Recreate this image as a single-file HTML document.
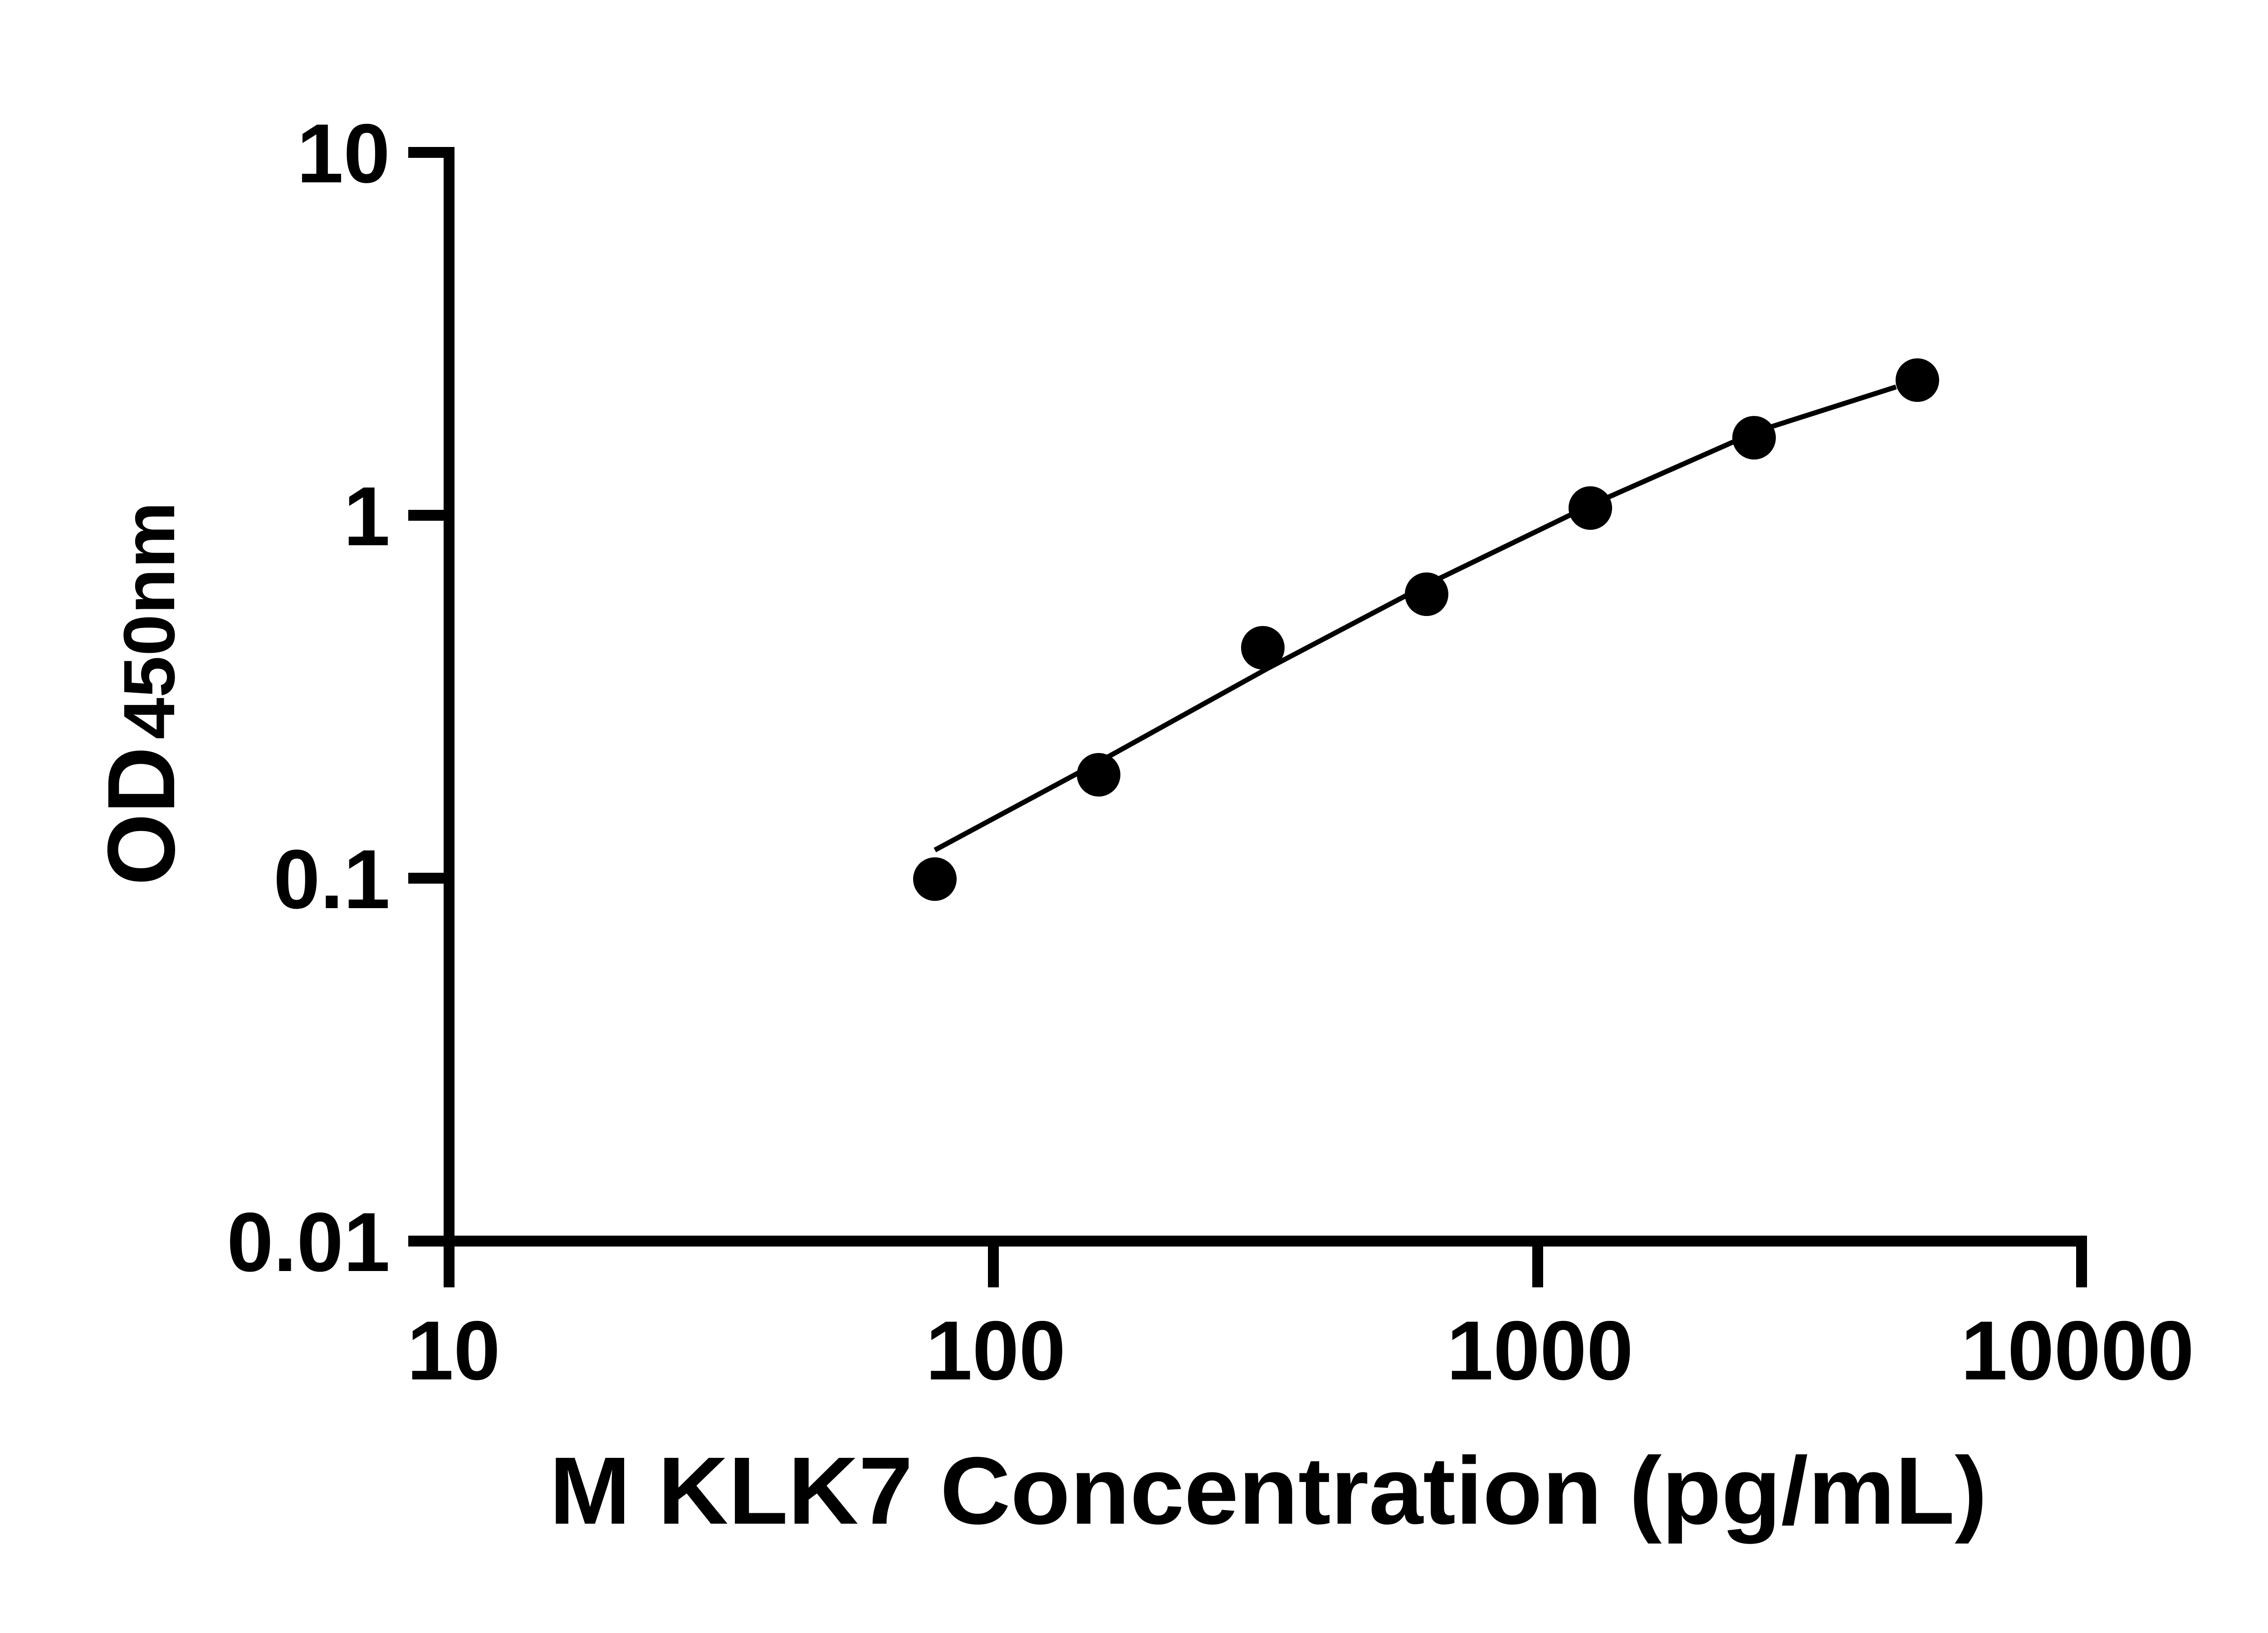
<!DOCTYPE html>
<html><head><style>html,body{margin:0;padding:0;background:#fff}svg{display:block}</style></head>
<body>
<svg width="5142" height="3600" viewBox="0 0 5142 3600" xmlns="http://www.w3.org/2000/svg">
<rect width="5142" height="3600" fill="#fff"/>
<g stroke="#000" stroke-width="24" fill="none" stroke-linecap="butt">
<path d="M990 324 V2748"/>
<path d="M978 2736 H4601"/>
<path d="M900 336 H1002 M900 1136 H1002 M900 1936 H1002 M900 2736 H1002"/>
<path d="M990 2724 V2838 M2190 2724 V2838 M3390 2724 V2838 M4589 2724 V2838"/>
</g>
<path d="M2061 1874 L2431 1675 L2792 1475 L3153 1285 L3514 1110 L3876 950 L4180 853" stroke="#000" stroke-width="11" fill="none"/>
<g fill="#000">
<circle cx="2061" cy="1938" r="48"/>
<circle cx="2422" cy="1708" r="48"/>
<circle cx="2784" cy="1428" r="48"/>
<circle cx="3145" cy="1310" r="48"/>
<circle cx="3506" cy="1120" r="48"/>
<circle cx="3867" cy="965" r="48"/>
<circle cx="4227" cy="838" r="48"/>
</g>
<g font-family="Liberation Sans, Arial, sans-serif" font-weight="bold" font-size="185" fill="#000">
<g text-anchor="end">
<text x="860" y="402">10</text>
<text x="860" y="1202">1</text>
<text x="860" y="2002">0.1</text>
<text x="860" y="2802">0.01</text>
</g>
<g text-anchor="middle">
<text x="1000" y="3041">10</text>
<text x="2195" y="3041">100</text>
<text x="3395" y="3041">1000</text>
<text x="4580" y="3041">10000</text>
</g>
<text x="1211" y="3359" font-size="211" textLength="3170" lengthAdjust="spacingAndGlyphs">M KLK7 Concentration (pg/mL)</text>
<g transform="translate(384,1952) rotate(-90)">
<text x="0" y="0" font-size="211" textLength="306" lengthAdjust="spacingAndGlyphs">OD</text>
<text x="322" y="0" font-size="160" textLength="524" lengthAdjust="spacingAndGlyphs">450nm</text>
</g>
</g>
</svg>
</body></html>
